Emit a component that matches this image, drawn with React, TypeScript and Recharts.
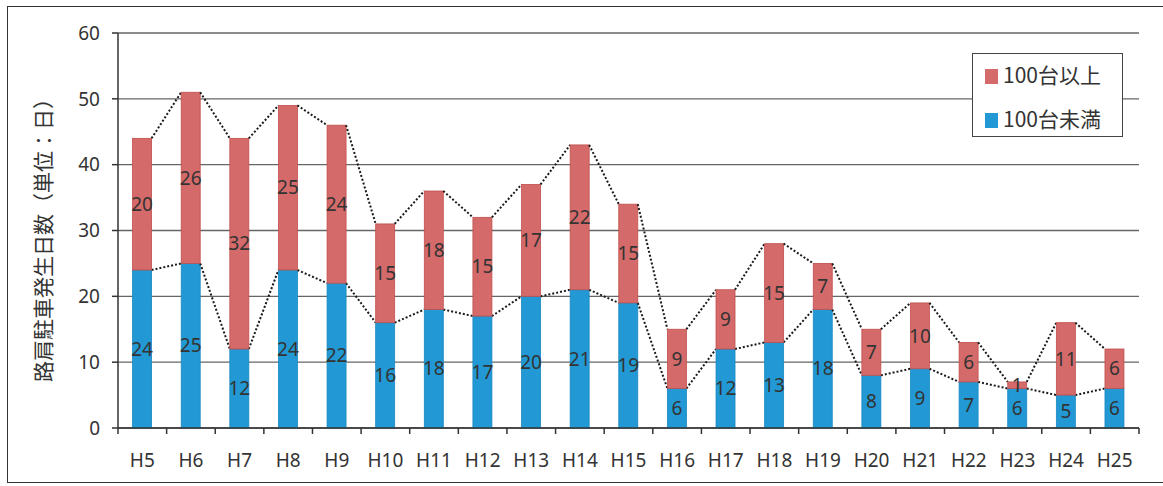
import React from "react";
import { Bar, BarChart, CartesianGrid, LabelList, Legend, XAxis, YAxis } from "recharts";

const categories = ["H5", "H6", "H7", "H8", "H9", "H10", "H11", "H12", "H13", "H14", "H15", "H16", "H17", "H18", "H19", "H20", "H21", "H22", "H23", "H24", "H25"];
const under100 = [24, 25, 12, 24, 22, 16, 18, 17, 20, 21, 19, 6, 12, 13, 18, 8, 9, 7, 6, 5, 6];
const over100 = [20, 26, 32, 25, 24, 15, 18, 15, 17, 22, 15, 9, 9, 15, 7, 7, 10, 6, 1, 11, 6];
const yTicks = [0, 10, 20, 30, 40, 50, 60];

const W = 1163;
const H = 486;
const MARGIN = { top: 33, right: 24, bottom: 18, left: 0 };
const Y_AXIS_W = 118;
const X_AXIS_H = 40;
const PLOT_LEFT = MARGIN.left + Y_AXIS_W;
const PLOT_W = W - PLOT_LEFT - MARGIN.right;
const PLOT_BOTTOM = H - MARGIN.bottom - X_AXIS_H;
const PLOT_H = PLOT_BOTTOM - MARGIN.top;
const Y_MAX = 60;
const STEP = PLOT_W / categories.length;
const PPU = PLOT_H / Y_MAX;

const RED = "#d46a6a";
const RED_EDGE = "#c0504d";
const BLUE = "#2299d4";
const BLUE_EDGE = "#1a88c0";
const FONT = "'Noto Sans', 'Noto Sans CJK JP', sans-serif";
const JP_FONT = "'Noto Sans CJK JP', sans-serif";

const rows = categories.map((name, i) => ({ name, under: under100[i], over: over100[i] }));

const underTop = (i: number) => under100[i];
const totalTop = (i: number) => under100[i] + over100[i];

function makeShape(getTop: (i: number) => number, fill: string, edge: string) {
  return (props: any) => {
    const { x, y, width, height, index } = props;
    const hasNext = index + 1 < categories.length;
    return (
      <g>
        <rect x={x} y={y} width={width} height={height} fill={fill} stroke={edge} strokeWidth={0.8} />
        {hasNext && (
          <line
            x1={x + width}
            y1={y}
            x2={x + STEP}
            y2={PLOT_BOTTOM - getTop(index + 1) * PPU}
            stroke="#1a1a1a"
            strokeWidth={2}
            strokeDasharray="2 2"
          />
        )}
      </g>
    );
  };
}

function XTick(props: any) {
  const { x, payload, index } = props;
  const last = index === categories.length - 1;
  return (
    <g>
      <line x1={x - STEP / 2} y1={PLOT_BOTTOM} x2={x - STEP / 2} y2={PLOT_BOTTOM + 6} stroke="#333" strokeWidth={1.5} />
      {last && <line x1={x + STEP / 2} y1={PLOT_BOTTOM} x2={x + STEP / 2} y2={PLOT_BOTTOM + 6} stroke="#333" strokeWidth={1.5} />}
      <text x={x} y={PLOT_BOTTOM + 26} dy="0.71em" textAnchor="middle" fontSize={19} fill="#333" fontFamily={FONT}>
        {payload.value}
      </text>
    </g>
  );
}

function LegendBox() {
  const items = [
    { label: "100台以上", color: RED },
    { label: "100台未満", color: BLUE },
  ];
  return (
    <div
      style={{
        width: 151,
        height: 84,
        border: "1.5px solid #444",
        background: "#fff",
        boxSizing: "border-box",
        paddingTop: 4,
        paddingLeft: 12,
      }}
    >
      {items.map((it) => (
        <div key={it.label} style={{ display: "flex", alignItems: "center", height: 32, marginBottom: 12 }}>
          <span style={{ width: 13, height: 15, background: it.color, display: "inline-block", marginRight: 5, marginTop: 5 }} />
          <span style={{ fontSize: 21, color: "#333", fontFamily: JP_FONT, lineHeight: "32px" }}>{it.label}</span>
        </div>
      ))}
    </div>
  );
}

function YLabel() {
  const cy = 235;
  return (
    <text
      x={42}
      y={cy}
      transform={`rotate(-90, 42, ${cy})`}
      textAnchor="middle"
      dominantBaseline="central"
      fontSize={21}
      fill="#333"
      fontFamily={JP_FONT}
    >
      路肩駐車発生日数（単位：日）
    </text>
  );
}

export default function App() {
  return (
    <div style={{ position: "absolute", left: 0, top: 0, width: W, height: H, background: "#fff", overflow: "hidden" }}>
      <div
        style={{
          position: "absolute",
          left: 7,
          top: 6,
          width: 1180,
          height: 477,
          border: "1.5px solid #333",
          boxSizing: "border-box",
        }}
      />
      <div style={{ position: "absolute", left: 0, top: 0 }}>
        <BarChart width={W} height={H} data={rows} margin={MARGIN} barCategoryGap="30%">
          <CartesianGrid vertical={false} stroke="#666" strokeWidth={1.3} />
          <XAxis
            dataKey="name"
            height={X_AXIS_H}
            interval={0}
            tickLine={false}
            axisLine={{ stroke: "#333", strokeWidth: 1.5 }}
            tick={<XTick />}
          />
          <YAxis
            width={Y_AXIS_W}
            domain={[0, Y_MAX]}
            ticks={yTicks}
            interval={0}
            tickSize={6}
            tickMargin={12}
            tick={{ fontSize: 19, fill: "#333", fontFamily: FONT }}
            axisLine={{ stroke: "#333", strokeWidth: 1.5 }}
            tickLine={{ stroke: "#333", strokeWidth: 1.5 }}
            label={<YLabel />}
          />
          <YAxis
            yAxisId="frame"
            orientation="right"
            width={0}
            domain={[0, Y_MAX]}
            tick={false}
            tickLine={false}
            axisLine={{ stroke: "#333", strokeWidth: 1.5 }}
          />
          <Legend
            layout="vertical"
            align="center"
            verticalAlign="middle"
            content={<LegendBox />}
            wrapperStyle={{ position: "absolute", left: 972, top: 53, width: 151, height: 84 }}
          />
          <Bar
            dataKey="under"
            name="100台未満"
            stackId="a"
            fill={BLUE}
            isAnimationActive={false}
            shape={makeShape(underTop, BLUE, BLUE_EDGE)}
          >
            <LabelList dataKey="under" position="center" fontSize={19} fill="#333" fontFamily={FONT} />
          </Bar>
          <Bar
            dataKey="over"
            name="100台以上"
            stackId="a"
            fill={RED}
            isAnimationActive={false}
            shape={makeShape(totalTop, RED, RED_EDGE)}
          >
            <LabelList dataKey="over" position="center" fontSize={19} fill="#333" fontFamily={FONT} />
          </Bar>
        </BarChart>
      </div>
    </div>
  );
}
